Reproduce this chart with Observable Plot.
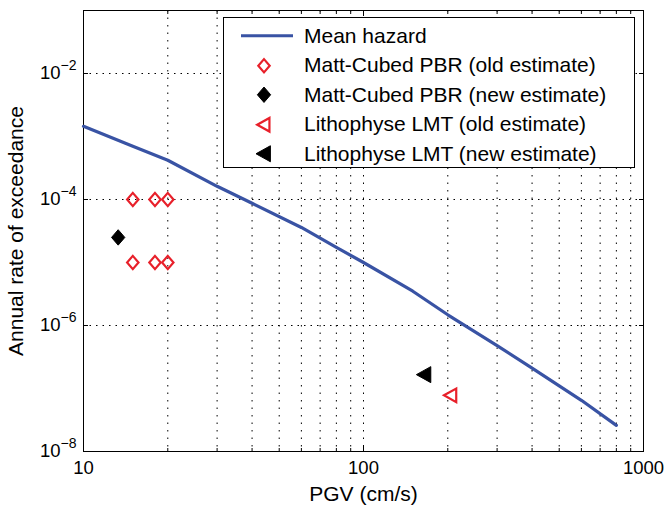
<!DOCTYPE html>
<html><head><meta charset="utf-8">
<script src="https://cdn.jsdelivr.net/npm/d3@7"></script>
<script src="https://cdn.jsdelivr.net/npm/@observablehq/plot@0.6"></script>
<style>
body{margin:0;background:#fff;font-family:"Liberation Sans",Arial,sans-serif;}
#wrap{position:relative;width:666px;height:507px;}
#legend{position:absolute;left:223px;top:17px;width:412px;height:151px;box-sizing:border-box;border:1px solid #000;background:#fff;padding-top:3px;}
.row{display:flex;align-items:center;height:29.5px;font-size:21px;color:#000;white-space:nowrap;}
.row svg{width:80px;height:29.5px;flex:none;}
</style></head><body><div id="wrap"></div>
<script>
// ---- data ----
const hazardPGV  = [10, 15, 20, 30, 40, 60, 80, 100, 150, 200, 300, 400, 500, 600, 800];
const hazardRate = [1.45e-3, 7.0e-4, 4.2e-4, 1.62e-4, 8.7e-5, 3.6e-5, 1.74e-5, 1.0e-5, 3.5e-6, 1.48e-6, 4.8e-7, 2.1e-7, 1.1e-7, 6.5e-8, 2.6e-8];
const mattOldPGV  = [15, 18, 20, 15, 18, 20];
const mattOldRate = [1e-4, 1e-4, 1e-4, 1e-5, 1e-5, 1e-5];
const mattNewPGV  = [13.3];
const mattNewRate = [2.5e-5];
const lithoOldPGV  = [205];
const lithoOldRate = [7.8e-8];
const lithoNewPGV  = [165];
const lithoNewRate = [1.66e-7];
const xMajorTicks = [10, 100, 1000];
const xMinorTicks = [20,30,40,50,60,70,80,90,200,300,400,500,600,700,800,900];
const xGridTicks  = [20,30,40,50,60,70,80,90,100,200,300,400,500,600,700,800,900];
const yTicks      = [1e-8, 1e-6, 1e-4, 1e-2];
const yGridTicks  = [1e-6, 1e-4, 1e-2];
const legendLabels = ["Mean hazard", "Matt-Cubed PBR (old estimate)", "Matt-Cubed PBR (new estimate)", "Lithophyse LMT (old estimate)", "Lithophyse LMT (new estimate)"];
const xLabel = "PGV (cm/s)";
const yLabel = "Annual rate of exceedance";

const BLUE = "#3953a4", RED = "#e8202a";

const toRows = (xs, ys) => xs.map((x, i) => ({pgv: x, rate: ys[i]}));
const hazard = toRows(hazardPGV, hazardRate);
const mattOld = toRows(mattOldPGV, mattOldRate);
const mattNew = toRows(mattNewPGV, mattNewRate);
const lithoOld = toRows(lithoOldPGV, lithoOldRate);
const lithoNew = toRows(lithoNewPGV, lithoNewRate);

const diamondSym = {draw(ctx, size) {
  const r = Math.sqrt(size / Math.PI);
  ctx.moveTo(0, -r * 1.1); ctx.lineTo(r * 0.95, 0); ctx.lineTo(0, r * 1.1); ctx.lineTo(-r * 0.95, 0); ctx.closePath();
}};
const triLeftSym = {draw(ctx, size) {
  const r = Math.sqrt(size / Math.PI);
  ctx.moveTo(-r, 0); ctx.lineTo(r * 0.8, -r); ctx.lineTo(r * 0.8, r); ctx.closePath();
}};

const fmtY = d => "10^" + String(Math.round(Math.log10(d))).replace("-", "−");

const chart = Plot.plot({
  width: 666, height: 507,
  marginLeft: 83, marginRight: 23, marginTop: 10, marginBottom: 56,
  style: {fontFamily: '"Liberation Sans", Arial, sans-serif', fontSize: "18.5px", background: "#fff", color: "#000", overflow: "visible"},
  x: {type: "log", domain: [10, 1000], label: null},
  y: {type: "log", domain: [1e-8, 1e-1], label: null},
  marks: [
    Plot.gridX(xGridTicks, {stroke: "#000", strokeOpacity: 1, strokeWidth: 1, strokeDasharray: "1.5,6"}),
    Plot.gridY(yGridTicks, {stroke: "#000", strokeOpacity: 1, strokeWidth: 1, strokeDasharray: "1.5,5"}),
    Plot.axisX({ticks: xMajorTicks, tickSize: -5, tickPadding: 14, tickFormat: d => String(d), label: null, fontSize: 18.5}),
    Plot.axisX({ticks: xMinorTicks, tickSize: -3, tickFormat: () => "", label: null}),
    Plot.axisX({anchor: "top", ticks: xMajorTicks, tickSize: -5, tickFormat: () => "", label: null}),
    Plot.axisX({anchor: "top", ticks: xMinorTicks, tickSize: -3, tickFormat: () => "", label: null}),
    Plot.axisY({ticks: yTicks, tickSize: -5, tickPadding: 12, tickFormat: fmtY, label: null, fontSize: 18.5}),
    Plot.axisY({anchor: "right", ticks: yTicks, tickSize: -5, tickFormat: () => "", label: null}),
    Plot.frame({stroke: "#000", strokeWidth: 1}),
    Plot.line(hazard, {x: "pgv", y: "rate", stroke: BLUE, strokeWidth: 3.2, curve: "linear"}),
    Plot.dot(mattOld, {x: "pgv", y: "rate", symbol: diamondSym, r: 6, stroke: RED, strokeWidth: 2.2, fill: "none"}),
    Plot.dot(mattNew, {x: "pgv", y: "rate", symbol: diamondSym, r: 7, stroke: "#000", strokeWidth: 1, fill: "#000"}),
    Plot.dot(lithoOld, {x: "pgv", y: "rate", symbol: triLeftSym, r: 6.8, stroke: RED, strokeWidth: 2.2, fill: "none"}),
    Plot.dot(lithoNew, {x: "pgv", y: "rate", symbol: triLeftSym, r: 8, stroke: "#000", strokeWidth: 1, fill: "#000"}),
    Plot.text([xLabel], {frameAnchor: "bottom", text: d => d, dy: 43, fontSize: 21, lineAnchor: "middle", textAnchor: "middle"}),
    Plot.text([yLabel], {frameAnchor: "left", text: d => d, dx: -67, rotate: -90, fontSize: 21, lineAnchor: "middle", textAnchor: "middle"})
  ]
});

// superscript exponents on y tick labels
d3.select(chart).selectAll('[aria-label="y-axis tick label"] text').each(function() {
  const s = this.textContent;
  if (s.indexOf("^") < 0) return;
  const [base, exp] = s.split("^");
  const t = d3.select(this);
  t.text(null);
  t.append("tspan").text(base);
  t.append("tspan").attr("dy", "-9").attr("font-size", "14px").text(exp);
});

const wrap = document.getElementById("wrap");
wrap.appendChild(chart);

// legend
const legend = document.createElement("div");
legend.id = "legend";
const symPath = (sym, r) => d3.symbol(sym, r * r * Math.PI)();
const legendIcons = [
  `<line x1="17" x2="69" y1="14.75" y2="14.75" stroke="${BLUE}" stroke-width="3.2"/>`,
  `<path transform="translate(40,14.75)" d="${symPath(diamondSym, 6)}" fill="none" stroke="${RED}" stroke-width="2.2"/>`,
  `<path transform="translate(40,14.75)" d="${symPath(diamondSym, 7)}" fill="#000" stroke="#000" stroke-width="1"/>`,
  `<path transform="translate(40,14.75)" d="${symPath(triLeftSym, 6.8)}" fill="none" stroke="${RED}" stroke-width="2.2"/>`,
  `<path transform="translate(40,14.75)" d="${symPath(triLeftSym, 8)}" fill="#000" stroke="#000" stroke-width="1"/>`
];
legendLabels.forEach((lab, i) => {
  const row = document.createElement("div");
  row.className = "row";
  row.innerHTML = `<svg viewBox="0 0 80 29.5">${legendIcons[i]}</svg>`;
  const span = document.createElement("span");
  span.textContent = lab;
  row.appendChild(span);
  legend.appendChild(row);
});
wrap.appendChild(legend);
</script>
</body></html>
